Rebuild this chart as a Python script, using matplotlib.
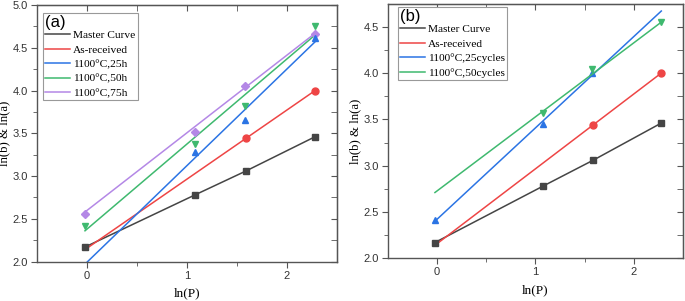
# coding=utf-8
import numpy as np
from matplotlib import pyplot as plt

plt.rcParams['font.family'] = ['Liberation Sans', 'DejaVu Sans']

# ln(P) positions of the measurements
lnP = [-0.02, 1.08, 1.59, 2.28]

# ---- panel (a) ----
master_y = [2.17, 2.78, 3.06, 3.46]
asrec_x = [1.59, 2.28]
asrec_y = [3.44, 4.00]
asrec_fit = [2.14, 4.00]
h25_x = [1.08, 1.58, 2.28]
h25_y = [3.28, 3.66, 4.62]
h25_fit = [1.97, 4.57]
h50_x = [-0.02, 1.08, 1.58, 2.28]
h50_y = [2.42, 3.38, 3.82, 4.76]
h50_fit = [2.36, 4.65]
h75_x = [-0.02, 1.08, 1.58, 2.28]
h75_y = [2.56, 3.52, 4.05, 4.66]
h75_fit = [2.58, 4.67]

# ---- panel (b) ----
c25_x = [-0.02, 1.08, 1.58]
c25_y = [2.41, 3.45, 4.00]
c25_fit = [2.40, 4.67]
c50_x = [1.08, 1.58, 2.28]
c50_y = [3.57, 4.04, 4.55]
c50_fit = [2.71, 4.55]

fit_x = [-0.02, 2.28]

labels_a = ['Master Curve', 'As-received', '1100°C,25h', '1100°C,50h', '1100°C,75h']
labels_b = ['Master Curve', 'As-received', '1100°C,25cycles', '1100°C,50cycles']

c_master = '#454545'
c_red = '#ee4545'
c_blue = '#2b74e4'
c_green = '#3fb96f'
c_purple = '#b488e6'

serif = 'Liberation Serif'


def style_axes(ax, ylim, yticks):
    ax.set_xlim(-0.5, 2.5)
    ax.set_ylim(*ylim)
    ax.set_xticks([0, 1, 2])
    ax.set_xticks([0.5, 1.5], minor=True)
    ax.set_yticks(yticks)
    ax.set_yticks(np.arange(yticks[0] + 0.25, ylim[1], 0.5), minor=True)
    ax.tick_params(which='both', direction='out', color='#555555', labelcolor='#333333',
                   labelsize=8)
    ax.tick_params(which='major', length=4, pad=2.5)
    ax.tick_params(which='minor', length=3)
    for s in ax.spines.values():
        s.set_color('#555555')
        s.set_linewidth(1.0)
    top = ax.secondary_xaxis('top')
    top.set_xticks([0, 1, 2])
    top.set_xticks([0.5, 1.5], minor=True)
    top.tick_params(which='both', direction='in', labeltop=False, color='#555555', length=4)
    right = ax.secondary_yaxis('right')
    right.set_yticks(yticks)
    right.set_yticks(np.arange(yticks[0] + 0.25, ylim[1], 0.5), minor=True)
    right.tick_params(which='both', direction='in', labelright=False, color='#555555', length=4)
    ax.set_xlabel('ln(P)', family=serif, fontsize=9.5, labelpad=5)
    ax.set_ylabel('ln(b) & ln(a)', family=serif, fontsize=9.2, labelpad=1.5)


def add_legend(ax, handles, labels, title, anchor):
    leg = ax.legend(handles, labels, loc='upper left', bbox_to_anchor=anchor,
                    title=title, alignment='left',
                    prop={'family': serif, 'size': 8.2},
                    title_fontproperties={'family': 'Liberation Sans', 'size': 12},
                    handlelength=2.2, handletextpad=0.25, labelspacing=0.39,
                    borderpad=0.2, borderaxespad=0, fancybox=False, framealpha=1)
    leg.get_frame().set_edgecolor('#999999')
    leg.get_frame().set_linewidth(0.8)
    leg._legend_box.sep = 0


fig = plt.figure(figsize=(6.85, 3.01), dpi=100)
ax1 = fig.add_axes([0.054, 0.131, 0.438, 0.852])
ax2 = fig.add_axes([0.566, 0.142, 0.431, 0.846])

ms = 5
# panel a
l1, = ax1.plot(lnP, master_y, '-', color=c_master, lw=1.1)
ax1.plot(lnP, master_y, 's', color=c_master, ms=ms, zorder=5)
l2, = ax1.plot(fit_x, asrec_fit, '-', color=c_red, lw=1.1)
ax1.plot(asrec_x, asrec_y, 'o', color=c_red, ms=ms)
l3, = ax1.plot(fit_x, h25_fit, '-', color=c_blue, lw=1.1)
ax1.plot(h25_x, h25_y, '^', color=c_blue, ms=ms, zorder=4)
l4, = ax1.plot(fit_x, h50_fit, '-', color=c_green, lw=1.1)
ax1.plot(h50_x, h50_y, 'v', color=c_green, ms=ms)
l5, = ax1.plot(fit_x, h75_fit, '-', color=c_purple, lw=1.1)
ax1.plot(h75_x, h75_y, 'D', color=c_purple, ms=4.5, zorder=3)
style_axes(ax1, (2.0, 5.0), [2.0, 2.5, 3.0, 3.5, 4.0, 4.5, 5.0])
add_legend(ax1, [l1, l2, l3, l4, l5], labels_a, '(a)', (0.02, 0.969))

# panel b
m1, = ax2.plot(lnP, master_y, '-', color=c_master, lw=1.1)
ax2.plot(lnP, master_y, 's', color=c_master, ms=ms, zorder=5)
m2, = ax2.plot(fit_x, asrec_fit, '-', color=c_red, lw=1.1)
ax2.plot(asrec_x, asrec_y, 'o', color=c_red, ms=ms)
m3, = ax2.plot(fit_x, c25_fit, '-', color=c_blue, lw=1.1)
ax2.plot(c25_x, c25_y, '^', color=c_blue, ms=ms)
m4, = ax2.plot(fit_x, c50_fit, '-', color=c_green, lw=1.1)
ax2.plot(c50_x, c50_y, 'v', color=c_green, ms=ms)
style_axes(ax2, (2.0, 4.75), [2.0, 2.5, 3.0, 3.5, 4.0, 4.5])
add_legend(ax2, [m1, m2, m3, m4], labels_b, '(b)', (0.034, 0.986))

plt.savefig('out.png', dpi=100)
